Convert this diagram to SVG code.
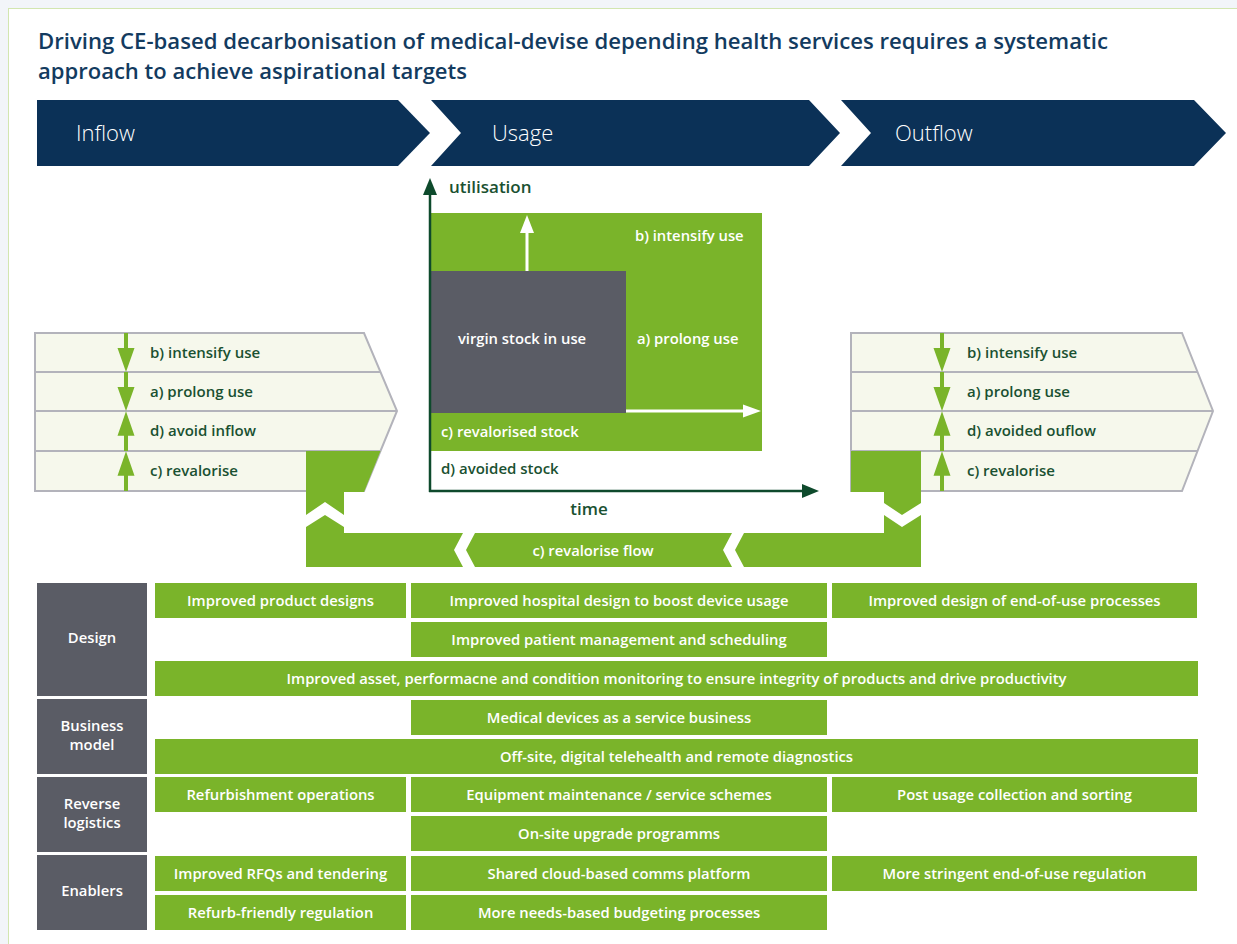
<svg xmlns="http://www.w3.org/2000/svg" width="1237" height="944" viewBox="0 0 1237 944">
<style>
text{font-family:"Open Sans","Noto Sans","Liberation Sans",sans-serif}
.title{font-size:21px;font-weight:600;fill:#133b5f}
.chev{fill:#0b3157}
.chevt{font-size:22px;font-weight:300;fill:#fff}
.panel{fill:#f6f8ec;stroke:#b3b3bb;stroke-width:2}
.sep{stroke:#b3b3bb;stroke-width:2}
.pt{font-size:15px;font-weight:600;fill:#1a5131}
.g{fill:#7ab42a}
.gr{fill:#5a5c65}
.wt{font-size:14.8px;font-weight:600;fill:#fff}
.lt{font-size:14.8px;font-weight:600;fill:#fff;text-anchor:middle}
.c{text-anchor:middle}
.axt{font-size:17px;font-weight:600;fill:#1a5131}
.ax{stroke:#0e4a2c;stroke-width:2.5;fill:none}
.axh{fill:#0e4a2c}
.wa{fill:#fff}
.pa{fill:#7ab42a}
</style>
<defs>
<path id="arrDown" d="M-2,0 H2 V15 H8.5 L0,39 L-8.5,15 H-2 Z"/>
</defs>
<rect x="0" y="0" width="1237" height="944" fill="#f2f5f9"/>
<rect x="8.5" y="8.5" width="1240" height="950" fill="#ffffff" stroke="#d2e6b0" stroke-width="1"/>

<g id="title">
<text class="title" x="38" y="49" textLength="1070" lengthAdjust="spacingAndGlyphs">Driving CE-based decarbonisation of medical-devise depending health services requires a systematic</text>
<text class="title" x="38" y="79" textLength="429" lengthAdjust="spacingAndGlyphs">approach to achieve aspirational targets</text>
</g>

<g id="chevron-inflow">
<polygon class="chev" points="37,100 398,100 430,133 398,166 37,166"/>
<text class="chevt" x="76" y="141">Inflow</text>
</g>
<g id="chevron-usage">
<polygon class="chev" points="431,100 809,100 840,133 809,166 431,166 461,133"/>
<text class="chevt" x="492" y="141">Usage</text>
</g>
<g id="chevron-outflow">
<polygon class="chev" points="841,100 1194,100 1226,133 1194,166 841,166 871,133"/>
<text class="chevt" x="895" y="141">Outflow</text>
</g>

<g id="panel-inflow">
<polygon class="panel" points="35,333 364,333 397,411 364,491 35,491"/>
<line class="sep" x1="35" y1="372" x2="380.5" y2="372"/>
<line class="sep" x1="35" y1="411" x2="397" y2="411" stroke-width="2.5"/>
<line class="sep" x1="35" y1="451" x2="380.5" y2="451"/>
<text class="pt" x="150" y="357.5">b) intensify use</text>
<text class="pt" x="150" y="396.5">a) prolong use</text>
<text class="pt" x="150" y="436">d) avoid inflow</text>
<text class="pt" x="150" y="476">c) revalorise</text>
</g>

<g id="panel-outflow">
<polygon class="panel" points="851,333 1182,333 1213,411 1182,491 851,491"/>
<line class="sep" x1="851" y1="372" x2="1197.5" y2="372"/>
<line class="sep" x1="851" y1="411" x2="1213" y2="411" stroke-width="2.5"/>
<line class="sep" x1="851" y1="451" x2="1197" y2="451"/>
<text class="pt" x="967" y="357.5">b) intensify use</text>
<text class="pt" x="967" y="396.5">a) prolong use</text>
<text class="pt" x="967" y="436">d) avoided ouflow</text>
<text class="pt" x="967" y="476">c) revalorise</text>
</g>

<g id="revalorise-flow">
<polygon class="g" points="306,451 380.5,451 364,492 344,492 344,533 884,533 884,492 851,492 851,451 921,451 921,567 306,567"/>
<polygon class="wa" points="306,515 325,502 344,515 344,527 325,515 306,527"/>
<polygon class="wa" points="884,503 902,515 921,503 921,515 902,527 884,515"/>
<polygon class="wa" points="463,533 454,550 463,567 475,567 466,550 475,533"/>
<polygon class="wa" points="732,533 723,550 732,567 744,567 735,550 744,533"/>
<text class="wt c" x="593" y="556">c) revalorise flow</text>
</g>

<g id="usage-chart">
<rect class="g" x="431" y="213" width="331" height="238"/>
<rect class="gr" x="431" y="271" width="195" height="142"/>
<text class="wt c" x="522" y="344">virgin stock in use</text>
<text class="wt" x="635" y="241">b) intensify use</text>
<text class="wt" x="637" y="344">a) prolong use</text>
<text class="wt" x="441" y="437">c) revalorised stock</text>
<text class="pt" x="441" y="474">d) avoided stock</text>
<text class="axt" x="449" y="193">utilisation</text>
<text class="axt c" x="589" y="515">time</text>
</g>

<g id="connectors">
<line class="ax" x1="430" y1="492" x2="430" y2="194"/>
<polygon class="axh" points="423,195 437,195 430,178"/>
<line class="ax" x1="429" y1="491" x2="803" y2="491"/>
<polygon class="axh" points="802,484 802,498 819,491"/>
<rect class="wa" x="525.5" y="232" width="3" height="39"/>
<polygon class="wa" points="520,233 534,233 527,215"/>
<rect class="wa" x="626" y="409.5" width="118" height="3"/>
<polygon class="wa" points="743,404.5 743,417.5 761,411"/>
<use href="#arrDown" class="pa" transform="translate(126,333)"/>
<use href="#arrDown" class="pa" transform="translate(126,372)"/>
<use href="#arrDown" class="pa" transform="translate(126,451) scale(1,-1.02)"/>
<use href="#arrDown" class="pa" transform="translate(126,491) scale(1,-1.02)"/>
<use href="#arrDown" class="pa" transform="translate(942,333)"/>
<use href="#arrDown" class="pa" transform="translate(942,372)"/>
<use href="#arrDown" class="pa" transform="translate(942,451) scale(1,-1.02)"/>
<use href="#arrDown" class="pa" transform="translate(942,491) scale(1,-1.02)"/>
</g>

<g id="row-design">
<rect class="gr" x="37" y="583" width="110" height="113"/>
<text class="lt" x="92" y="643">Design</text>
<rect class="g" x="155" y="583" width="251" height="35"/>
<text class="lt" x="280.5" y="606">Improved product designs</text>
<rect class="g" x="411" y="583" width="416" height="35"/>
<text class="lt" x="619" y="606">Improved hospital design to boost device usage</text>
<rect class="g" x="832" y="583" width="365" height="35"/>
<text class="lt" x="1014.5" y="606">Improved design of end-of-use processes</text>
<rect class="g" x="411" y="622" width="416" height="35"/>
<text class="lt" x="619" y="645">Improved patient management and scheduling</text>
<rect class="g" x="155" y="661" width="1043" height="35"/>
<text class="lt" x="676.5" y="684">Improved asset, performacne and condition monitoring to ensure integrity of products and drive productivity</text>
</g>

<g id="row-business">
<rect class="gr" x="37" y="699" width="110" height="75"/>
<text class="lt" x="92" y="731">Business</text>
<text class="lt" x="92" y="750">model</text>
<rect class="g" x="411" y="700" width="416" height="35"/>
<text class="lt" x="619" y="723">Medical devices as a service business</text>
<rect class="g" x="155" y="739" width="1043" height="35"/>
<text class="lt" x="676.5" y="762">Off-site, digital telehealth and remote diagnostics</text>
</g>

<g id="row-reverse">
<rect class="gr" x="37" y="777" width="110" height="75"/>
<text class="lt" x="92" y="809">Reverse</text>
<text class="lt" x="92" y="828">logistics</text>
<rect class="g" x="155" y="777" width="251" height="35"/>
<text class="lt" x="280.5" y="800">Refurbishment operations</text>
<rect class="g" x="411" y="777" width="416" height="35"/>
<text class="lt" x="619" y="800">Equipment maintenance / service schemes</text>
<rect class="g" x="832" y="777" width="365" height="35"/>
<text class="lt" x="1014.5" y="800">Post usage collection and sorting</text>
<rect class="g" x="411" y="816" width="416" height="35"/>
<text class="lt" x="619" y="839">On-site upgrade programms</text>
</g>

<g id="row-enablers">
<rect class="gr" x="37" y="855" width="110" height="75"/>
<text class="lt" x="92" y="896">Enablers</text>
<rect class="g" x="155" y="856" width="251" height="35"/>
<text class="lt" x="280.5" y="879">Improved RFQs and tendering</text>
<rect class="g" x="411" y="856" width="416" height="35"/>
<text class="lt" x="619" y="879">Shared cloud-based comms platform</text>
<rect class="g" x="832" y="856" width="365" height="35"/>
<text class="lt" x="1014.5" y="879">More stringent end-of-use regulation</text>
<rect class="g" x="155" y="895" width="251" height="35"/>
<text class="lt" x="280.5" y="918">Refurb-friendly regulation</text>
<rect class="g" x="411" y="895" width="416" height="35"/>
<text class="lt" x="619" y="918">More needs-based budgeting processes</text>
</g>
</svg>
